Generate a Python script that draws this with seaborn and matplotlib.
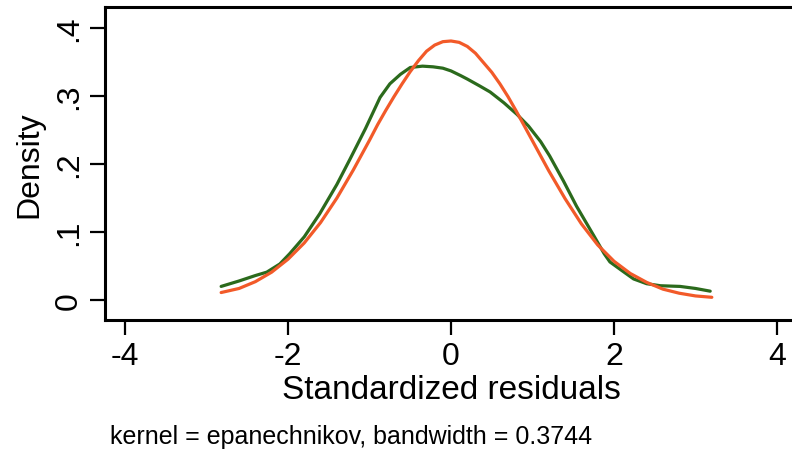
import matplotlib
matplotlib.use("Agg")
import matplotlib.pyplot as plt
import seaborn as sns
import pandas as pd

# Kernel density estimate (green)
kde_x = [-2.82, -2.6, -2.4, -2.26, -2.1, -1.98, -1.8, -1.61, -1.4, -1.24, -1.05, -0.87,
         -0.75, -0.62, -0.50, -0.35, -0.22, -0.10, 0.0, 0.12, 0.2, 0.35, 0.48, 0.65,
         0.81, 0.95, 1.1, 1.21, 1.38, 1.54, 1.75, 1.88, 1.95, 2.1, 2.24, 2.4, 2.57,
         2.81, 3.0, 3.18]
kde_y = [0.020, 0.028, 0.036, 0.041, 0.053, 0.068, 0.093, 0.127, 0.170, 0.207, 0.252, 0.298,
         0.318, 0.332, 0.342, 0.344, 0.343, 0.341, 0.337, 0.330, 0.325, 0.315, 0.306, 0.290,
         0.273, 0.256, 0.233, 0.212, 0.175, 0.138, 0.095, 0.068, 0.056, 0.043, 0.031, 0.024, 0.021,
         0.020, 0.017, 0.013]

# Normal density overlay (orange)
norm_x = [-2.82, -2.6, -2.4, -2.2, -2.0, -1.8, -1.6, -1.4, -1.2, -1.0, -0.9, -0.8, -0.7,
          -0.6, -0.5, -0.4, -0.3, -0.2, -0.1, 0.0, 0.1, 0.2, 0.3, 0.4, 0.5, 0.6, 0.7,
          0.8, 0.9, 1.0, 1.2, 1.4, 1.6, 1.8, 2.0, 2.2, 2.4, 2.6, 2.8, 3.0, 3.2]
norm_y = [0.011, 0.017, 0.027, 0.041, 0.060, 0.084, 0.114, 0.150, 0.191, 0.235, 0.258, 0.279,
          0.299, 0.318, 0.336, 0.352, 0.366, 0.375, 0.380, 0.381, 0.379, 0.373, 0.363, 0.349,
          0.335, 0.318, 0.299, 0.278, 0.256, 0.234, 0.190, 0.149, 0.112, 0.081,
          0.057, 0.039, 0.026, 0.016, 0.010, 0.006, 0.004]

x_ticks = [-4, -2, 0, 2, 4]
x_tick_labels = ["-4", "-2", "0", "2", "4"]
y_ticks = [0, 0.1, 0.2, 0.3, 0.4]
y_tick_labels = ["0", ".1", ".2", ".3", ".4"]

sns.set_style("white")
plt.rcParams["font.family"] = ["Liberation Sans", "DejaVu Sans"]
plt.rcParams["text.color"] = "black"
plt.rcParams["axes.labelcolor"] = "black"
plt.rcParams["xtick.color"] = "black"
plt.rcParams["ytick.color"] = "black"

fig = plt.figure(figsize=(7.92, 4.56), dpi=100)
ax = fig.add_axes([105 / 792, 1 - 321 / 456, 692 / 792, 313 / 456])

kde_df = pd.DataFrame({"x": kde_x, "y": kde_y})
norm_df = pd.DataFrame({"x": norm_x, "y": norm_y})
sns.lineplot(data=kde_df, x="x", y="y", ax=ax, color="#2b6a1c", linewidth=2.3,
             sort=False, estimator=None)
sns.lineplot(data=norm_df, x="x", y="y", ax=ax, color="#f25a29", linewidth=2.3,
             sort=False, estimator=None)

ax.set_xlim(-4.245, 4.245)
ax.set_ylim(-0.0294, 0.431)
ax.set_xticks(x_ticks)
ax.set_xticklabels(x_tick_labels)
ax.set_yticks(y_ticks)
ax.set_yticklabels(y_tick_labels, rotation=90, va="center")

for s in ["left", "bottom", "top", "right"]:
    ax.spines[s].set_visible(True)
    ax.spines[s].set_color("black")
    ax.spines[s].set_linewidth(2.2)

ax.tick_params(axis="both", which="major", length=11, width=1.6, colors="black",
               labelsize=23, direction="out", pad=4)
ax.tick_params(axis="x", bottom=True)
ax.tick_params(axis="y", left=True)

ax.set_xlabel("Standardized residuals", fontsize=24, labelpad=2, color="black")
ax.set_ylabel("Density", fontsize=23, labelpad=7, color="black")

fig.text(110 / 792, 1 - 444 / 456, "kernel = epanechnikov, bandwidth = 0.3744",
         fontsize=18, ha="left", va="baseline", color="black")

fig.savefig("out.png", dpi=100)
